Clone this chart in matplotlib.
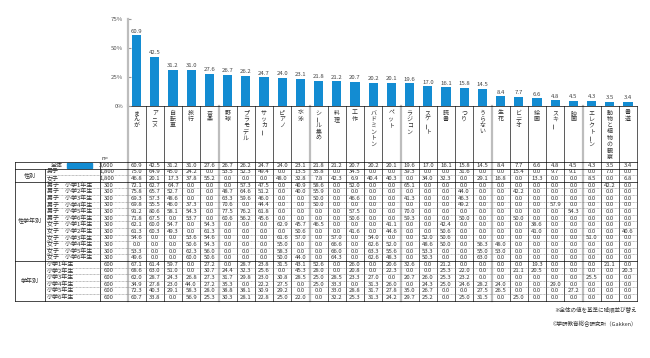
import matplotlib
matplotlib.use('Agg')
import matplotlib.pyplot as plt
from matplotlib.patches import Rectangle
import numpy as np

plt.rcParams['font.family'] = ['Noto Sans CJK JP', 'DejaVu Sans']

# 項目（全体の値で降順）
categories = ['まんが', 'アニメ', '自転車', '旅行', '音楽', '野球', 'プラモデル', 'サッカー',
              'ピアノ', '水泳', 'シール集め', '料理', '工作', 'バドミントン', 'ペット', 'ラジコン',
              'スケート', '読書', 'つり', 'うらない', '生花', 'ビデオ', '絵画', 'スキー', '映画',
              'エレクトーン', '動物と植物の観察', '書道']

overall = [60.9, 42.5, 31.2, 31.0, 27.6, 26.7, 26.2, 24.7, 24.0, 23.1, 21.8, 21.2, 20.7, 20.2,
           20.1, 19.6, 17.0, 16.1, 15.8, 14.5, 8.4, 7.7, 6.6, 4.8, 4.5, 4.3, 3.5, 3.4]

# 性別
sex_labels = ['男子', '女子']
sex_n = ['1,800', '1,800']
sex_values = [
    [75.0, 64.9, 45.0, 24.2, 0.0, 53.5, 52.3, 49.4, 0.0, 13.5, 35.8, 0.0, 34.5, 0.0,
     0.0, 39.3, 0.0, 0.0, 31.6, 0.0, 0.0, 15.4, 0.0, 9.7, 9.1, 0.0, 7.0, 0.0],
    [46.8, 20.1, 17.3, 37.8, 55.2, 0.0, 0.0, 0.0, 48.0, 32.8, 7.8, 42.3, 6.9, 40.4,
     40.3, 0.0, 34.0, 32.3, 0.0, 29.1, 16.8, 0.0, 13.3, 0.0, 0.0, 8.5, 0.0, 6.8],
]

# 性学年別
sexgrade_labels = ['男子　小学%d年生' % g for g in range(1, 7)] + ['女子　小学%d年生' % g for g in range(1, 7)]
sexgrade_n = ['300'] * 12
sexgrade_values = [
    [72.1, 62.7, 64.7, 0.0, 0.0, 0.0, 57.3, 47.5, 0.0, 40.9, 58.6, 0.0, 52.0, 0.0,
     0.0, 65.1, 0.0, 0.0, 0.0, 0.0, 0.0, 0.0, 0.0, 0.0, 0.0, 0.0, 42.2, 0.0],
    [75.8, 65.7, 52.7, 0.0, 0.0, 48.7, 64.6, 51.2, 0.0, 40.0, 55.9, 0.0, 0.0, 0.0,
     0.0, 0.0, 0.0, 0.0, 44.0, 0.0, 0.0, 42.2, 0.0, 0.0, 0.0, 0.0, 0.0, 0.0],
    [69.3, 57.3, 48.6, 0.0, 0.0, 63.3, 59.6, 46.0, 0.0, 0.0, 50.0, 0.0, 46.6, 0.0,
     0.0, 41.3, 0.0, 0.0, 46.3, 0.0, 0.0, 0.0, 0.0, 0.0, 0.0, 0.0, 0.0, 0.0],
    [69.8, 55.5, 46.0, 37.3, 0.0, 70.6, 0.0, 44.4, 0.0, 0.0, 50.0, 0.0, 0.0, 0.0,
     0.0, 0.0, 0.0, 0.0, 49.2, 0.0, 0.0, 0.0, 0.0, 57.9, 0.0, 0.0, 0.0, 0.0],
    [91.2, 80.6, 58.1, 54.3, 0.0, 77.5, 76.2, 61.8, 0.0, 0.0, 0.0, 0.0, 57.5, 0.0,
     0.0, 70.0, 0.0, 0.0, 0.0, 0.0, 0.0, 0.0, 0.0, 0.0, 54.3, 0.0, 0.0, 0.0],
    [71.8, 67.5, 0.0, 53.7, 0.0, 60.6, 56.2, 45.6, 0.0, 0.0, 0.0, 0.0, 50.6, 0.0,
     0.0, 59.3, 0.0, 0.0, 50.0, 0.0, 0.0, 50.0, 0.0, 0.0, 0.0, 0.0, 0.0, 0.0],
    [62.1, 60.0, 54.7, 0.0, 54.3, 0.0, 0.0, 0.0, 62.9, 45.7, 46.5, 0.0, 0.0, 0.0,
     41.1, 0.0, 0.0, 42.4, 0.0, 0.0, 0.0, 0.0, 38.6, 0.0, 0.0, 0.0, 0.0, 0.0],
    [61.3, 60.3, 49.3, 0.0, 61.3, 0.0, 0.0, 0.0, 0.0, 50.6, 0.0, 0.0, 41.6, 0.0,
     44.6, 0.0, 0.0, 50.6, 0.0, 0.0, 0.0, 0.0, 41.0, 0.0, 0.0, 0.0, 0.0, 40.6],
    [54.6, 0.0, 0.0, 53.6, 54.6, 0.0, 0.0, 0.0, 61.6, 57.0, 0.0, 57.0, 0.0, 54.0,
     0.0, 0.0, 52.0, 50.6, 0.0, 0.0, 0.0, 0.0, 0.0, 0.0, 0.0, 51.0, 0.0, 0.0],
    [0.0, 0.0, 0.0, 50.6, 54.3, 0.0, 0.0, 0.0, 55.0, 0.0, 0.0, 66.6, 0.0, 62.6,
     52.0, 0.0, 48.6, 50.0, 0.0, 56.3, 48.0, 0.0, 0.0, 0.0, 0.0, 0.0, 0.0, 0.0],
    [53.3, 0.0, 0.0, 62.3, 56.0, 0.0, 0.0, 0.0, 58.3, 0.0, 0.0, 66.0, 0.0, 63.3,
     55.6, 0.0, 53.3, 0.0, 0.0, 55.0, 53.0, 0.0, 0.0, 0.0, 0.0, 0.0, 0.0, 0.0],
    [49.6, 0.0, 0.0, 60.0, 50.6, 0.0, 0.0, 0.0, 50.0, 44.0, 0.0, 64.3, 0.0, 62.6,
     48.3, 0.0, 50.3, 0.0, 0.0, 63.0, 0.0, 0.0, 0.0, 0.0, 0.0, 0.0, 0.0, 0.0],
]

# 学年別
grade_labels = ['小学%d年生' % g for g in range(1, 7)]
grade_n = ['600'] * 6
grade_values = [
    [67.1, 61.4, 59.7, 0.0, 27.2, 0.0, 28.7, 23.8, 31.5, 43.1, 52.6, 0.0, 26.0, 0.0,
     20.6, 32.6, 0.0, 21.2, 0.0, 0.0, 0.0, 0.0, 19.3, 0.0, 0.0, 0.0, 21.1, 0.0],
    [68.6, 63.0, 51.0, 0.0, 30.7, 24.4, 32.3, 25.6, 0.0, 45.3, 28.0, 0.0, 20.8, 0.0,
     22.3, 0.0, 0.0, 25.3, 22.0, 0.0, 0.0, 21.1, 20.5, 0.0, 0.0, 0.0, 0.0, 20.3],
    [62.0, 28.7, 24.3, 26.8, 27.3, 31.7, 29.8, 23.0, 30.8, 28.5, 25.0, 28.5, 23.3, 27.0,
     0.0, 20.7, 26.0, 25.3, 23.2, 0.0, 0.0, 0.0, 0.0, 0.0, 0.0, 25.5, 0.0, 0.0],
    [34.9, 27.8, 23.0, 44.0, 27.2, 35.3, 0.0, 22.2, 27.5, 0.0, 25.0, 33.3, 0.0, 31.3,
     26.0, 0.0, 24.3, 25.0, 24.6, 28.2, 24.0, 0.0, 0.0, 29.0, 0.0, 0.0, 0.0, 0.0],
    [72.3, 40.3, 29.1, 58.3, 28.0, 38.8, 38.1, 30.9, 29.2, 0.0, 0.0, 33.0, 28.8, 31.7,
     27.8, 35.0, 26.7, 0.0, 0.0, 27.5, 26.5, 0.0, 0.0, 0.0, 27.2, 0.0, 0.0, 0.0],
    [60.7, 33.8, 0.0, 56.9, 25.3, 30.3, 28.1, 22.8, 25.0, 22.0, 0.0, 32.2, 25.3, 31.3,
     24.2, 29.7, 25.2, 0.0, 25.0, 31.5, 0.0, 25.0, 0.0, 0.0, 0.0, 0.0, 0.0, 0.0],
]

BLUE = '#138CD2'
GRAY = '#BDBDBD'
TXT = '#333333'
FS = 4.3

W, H = 650, 358
fig = plt.figure(figsize=(6.5, 3.58), dpi=100)
ov = fig.add_axes([0, 0, 1, 1])
ov.set_xlim(0, W)
ov.set_ylim(H, 0)
ov.axis('off')

nc = len(categories)
X0, CW = 127.5, 18.2
XR = X0 + CW * nc
Y0, Y75 = 106, 19

# 棒グラフ
ax = fig.add_axes([X0 / W, 1 - Y0 / H, CW * nc / W, (Y0 - Y75) / H])
ax.patch.set_alpha(0)
xs = np.arange(nc)
ax.bar(xs, overall, width=0.5, color=BLUE)
for x, v in zip(xs, overall):
    ax.text(x, v + 1.5, '%.1f' % v, ha='center', va='bottom', fontsize=FS, color='#444444')
ax.set_xlim(-0.5, nc - 0.5)
ax.set_ylim(0, 75)
ax.set_xticks([])
ax.set_yticks([0, 25, 50, 75])
ax.set_yticklabels(['0%', '25%', '50%', '75%'])
ax.tick_params(axis='y', direction='in', length=2.5, width=0.8, color='#999999',
               labelsize=FS, labelcolor='#555555', pad=3)
for s in ['top', 'right', 'bottom']:
    ax.spines[s].set_visible(False)
ax.spines['left'].set_color(GRAY)
ax.spines['left'].set_linewidth(1.6)

# 表の行
row_labels = sex_labels + sexgrade_labels + grade_labels
row_n = sex_n + sexgrade_n + grade_n
row_values = sex_values + sexgrade_values + grade_values
groups = [('性別', 1, 3), ('性学年別', 3, 15), ('学年別', 15, 21)]

TOP, RH = 162.0, 6.6
nrows = 1 + len(row_labels)
BOT = TOP + RH * nrows
cx = [X0 + CW * (i + 0.5) for i in range(nc)]

# 項目名（縦書き）
for i, cat in enumerate(categories):
    for k, ch in enumerate(cat):
        ov.text(cx[i], 113 + k * 6.3, ch, ha='center', va='center', fontsize=FS,
                color=TXT, rotation=90 if ch == 'ー' else 0)

# 罫線
ov.plot([X0, XR], [Y0, Y0], color='black', lw=0.5)
for k in range(nc + 1):
    x = X0 + CW * k
    if k % 5 == 0:
        ov.plot([x, x], [Y0 if k else Y0 - 1, BOT], color=GRAY, lw=1.6, zorder=1)
    else:
        ov.plot([x, x], [Y0, BOT], color='black', lw=0.45, zorder=2)
ov.plot([15, 15], [TOP, BOT], color='black', lw=0.5)
ov.plot([45, 45], [TOP + RH, BOT], color='black', lw=0.5)
ov.plot([100, 100], [TOP, BOT], color='black', lw=0.5)

solid_rows = [0, 1, 3, 15, nrows]
for r in range(nrows + 1):
    y = TOP + RH * r
    if r in solid_rows:
        ov.plot([15, XR], [y, y], color='black', lw=0.5, zorder=3)
    else:
        ov.plot([45, XR], [y, y], color='#777777', lw=0.4, ls=(0, (1.5, 1.0)), zorder=3)

ov.text(105, TOP - 3.5, 'n=', ha='center', va='center', fontsize=FS, color=TXT)

# 全体
yc = TOP + RH / 2
ov.text(63, yc, '全体', ha='right', va='center', fontsize=FS, color=TXT)
ov.add_patch(Rectangle((67, yc - 2.3), 25, 4.6, color=BLUE))
ov.text(114, yc, '3,600', ha='right', va='center', fontsize=FS, color=TXT)
for i, v in enumerate(overall):
    ov.text(cx[i], yc, '%.1f' % v, ha='center', va='center', fontsize=FS, color=TXT)

for r, (lab, n, vals) in enumerate(zip(row_labels, row_n, row_values)):
    yc = TOP + RH * (r + 1.5)
    ov.text(47, yc, lab, ha='left', va='center', fontsize=FS, color=TXT)
    ov.text(114, yc, n, ha='right', va='center', fontsize=FS, color=TXT)
    for i, v in enumerate(vals):
        ov.text(cx[i], yc, '%.1f' % v, ha='center', va='center', fontsize=FS, color=TXT)

for name, r0, r1 in groups:
    ov.text(30, TOP + RH * (r0 + r1) / 2, name, ha='center', va='center', fontsize=FS, color=TXT)

ov.text(XR, BOT + 9, '※全体の値を基準に降順並び替え', ha='right', va='center', fontsize=4, color=TXT)
ov.text(XR, BOT + 24, '©学研教育総合研究所（Gakken）', ha='right', va='center', fontsize=4, color=TXT)

fig.savefig('out.png', dpi=100)
